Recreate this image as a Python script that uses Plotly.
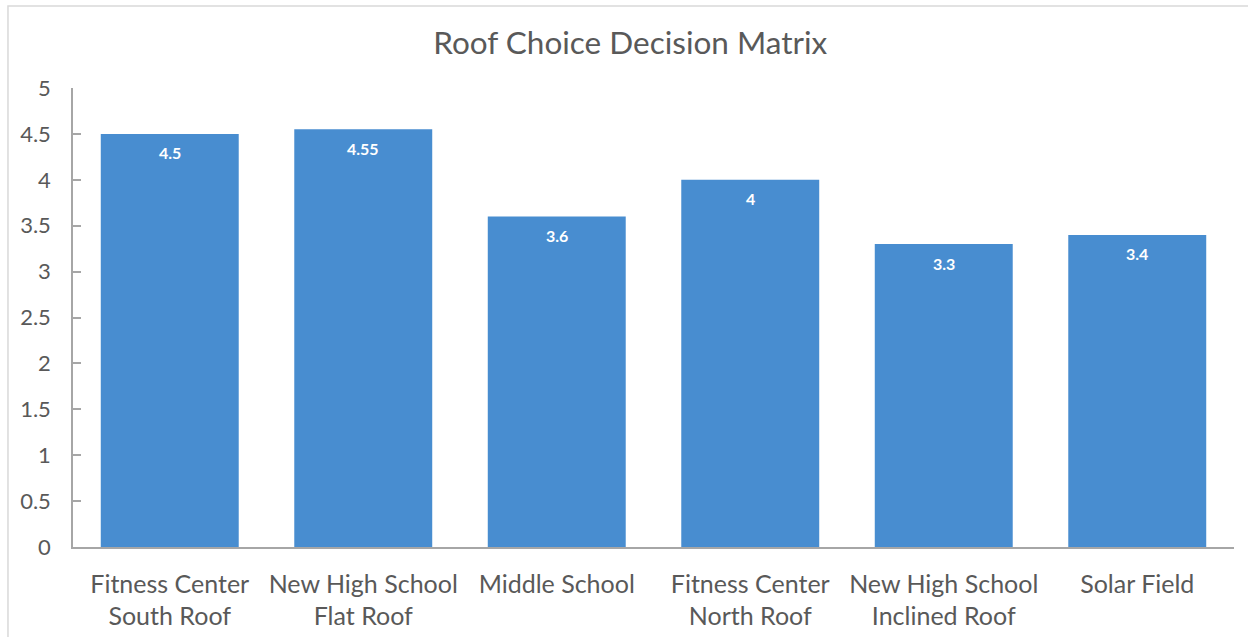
import plotly.graph_objects as go

# Roof options and their decision-matrix scores
categories = [
    "Fitness Center<br>South Roof",
    "New High School<br>Flat Roof",
    "Middle School",
    "Fitness Center<br>North Roof",
    "New High School<br>Inclined Roof",
    "Solar Field",
]
scores = [4.5, 4.55, 3.6, 4.0, 3.3, 3.4]
score_labels = ["4.5", "4.55", "3.6", "4", "3.3", "3.4"]
y_ticks = [0, 0.5, 1, 1.5, 2, 2.5, 3, 3.5, 4, 4.5, 5]
y_tick_text = ["0", "0.5", "1", "1.5", "2", "2.5", "3", "3.5", "4", "4.5", "5"]

FONT = "Lato"
TEXT_GREY = "#595959"
AXIS_GREY = "#a6a6a6"

fig = go.Figure()
fig.add_trace(
    go.Bar(
        x=categories,
        y=scores,
        marker=dict(color="#488dd0", line=dict(width=0)),
        hoverinfo="x+y",
    )
)

# White value labels just inside the top of each bar
for cat, val, lab in zip(categories, scores, score_labels):
    fig.add_annotation(
        x=cat, y=val, text=f"<b>{lab}</b>", showarrow=False,
        yanchor="middle", yshift=-19,
        font=dict(family=FONT, size=16, color="white"),
    )

# Light chart-area border
fig.add_shape(
    type="rect", xref="paper", yref="paper",
    x0=-0.056, x1=1.05, y0=-0.4, y1=1.1786,
    line=dict(color="#d9d9d9", width=1.5), fillcolor="rgba(0,0,0,0)",
    layer="below",
)

fig.update_layout(
    width=1248, height=637,
    margin=dict(l=73, r=14, t=88, b=90, autoexpand=False),
    paper_bgcolor="white", plot_bgcolor="white",
    showlegend=False,
    bargap=0.287,
    title=dict(
        text="Roof Choice Decision Matrix",
        x=0.505, xref="container", xanchor="center",
        y=1 - 43 / 637, yref="container", yanchor="middle",
        font=dict(family=FONT, size=31.5, color=TEXT_GREY),
    ),
    font=dict(family=FONT, color=TEXT_GREY),
)
fig.update_xaxes(
    showgrid=False, showline=True, linecolor=AXIS_GREY, linewidth=1.5,
    ticks="", ticklabelstandoff=14, automargin=False,
    tickfont=dict(family=FONT, size=25, color=TEXT_GREY),
    fixedrange=True,
)
fig.update_yaxes(
    range=[0, 5], tickvals=y_ticks, ticktext=y_tick_text,
    showgrid=False, zeroline=False, showline=True, linecolor=AXIS_GREY, linewidth=1.5,
    ticks="inside", ticklen=8, tickcolor=AXIS_GREY, tickwidth=1.5,
    ticklabelstandoff=16, automargin=False,
    tickfont=dict(family=FONT, size=22, color=TEXT_GREY),
    fixedrange=True,
)

fig.write_html("out.html")
